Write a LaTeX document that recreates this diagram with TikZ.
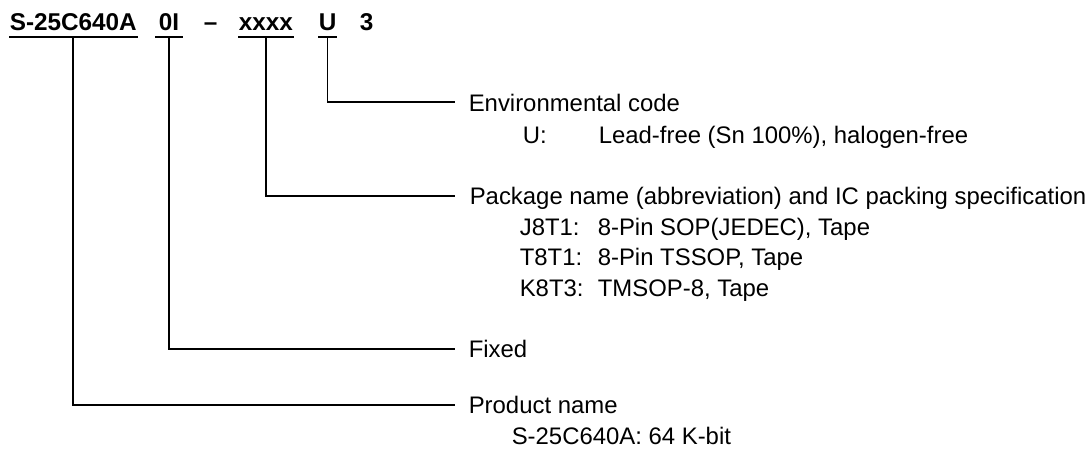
\documentclass[tikz,border=0pt]{standalone}
\usepackage{fontspec}
\setmainfont{Liberation Sans}
\begin{document}
\begin{tikzpicture}[x=1pt,y=-1pt,line width=1.6pt,
  hdr/.style={font=\fontsize{24.3}{29}\selectfont\bfseries,inner sep=0pt,anchor=base west},
  lbl/.style={font=\fontsize{23.9}{28}\selectfont,inner sep=0pt,anchor=base west},
  conn/.style={line width=1.6pt}]
\useasboundingbox (0,0) rectangle (1088,450);
% header
\node[hdr] (pn) at (9,30) {S-25C640A};
\node[hdr,inner xsep=3pt] (fx) at (155,30) {0I};
\node[hdr] (da) at (203,30) {--};
\node[hdr] (pk) at (238,30) {xxxx};
\node[hdr] (ev) at (318,30) {U};
\node[hdr] (th) at (359,30) {3};
\foreach \n in {pn,fx,pk,ev}{
  \draw[conn] ([yshift=-7pt]\n.base west) -- ([yshift=-7pt]\n.base east);
}
% labels
\node[lbl] (envt) at (468,111) {Environmental code};
\node[lbl] (envu) at (522,143) {U:};
\node[lbl] (envd) at (598,143) {Lead-free (Sn 100\%), halogen-free};
\node[lbl] (pkgt) at (469,204) {Package name (abbreviation) and IC packing specification};
\node[lbl] (pa) at (519,235) {J8T1:};
\node[lbl] (pad) at (597,235) {8-Pin SOP(JEDEC), Tape};
\node[lbl] (pb) at (519,265) {T8T1:};
\node[lbl] (pbd) at (597,265) {8-Pin TSSOP, Tape};
\node[lbl] (pc) at (519,296) {K8T3:};
\node[lbl] (pcd) at (597,296) {TMSOP-8, Tape};
\node[lbl] (fxt) at (468,357) {Fixed};
\node[lbl] (prt) at (468,413) {Product name};
\node[lbl] (prd) at (511,444) {S-25C640A: 64 K-bit};
% connector ends
\coordinate (e1) at (455,102);
\coordinate (e2) at (455,196);
\coordinate (e3) at (455,349);
\coordinate (e4) at (455,405);
\draw[conn] ([yshift=-7pt]ev.base) |- (e1);
\draw[conn] ([yshift=-7pt]pk.base) |- (e2);
\draw[conn] ([yshift=-7pt]fx.base) |- (e3);
\draw[conn] ([yshift=-7pt]pn.base) |- (e4);
\end{tikzpicture}
\end{document}
